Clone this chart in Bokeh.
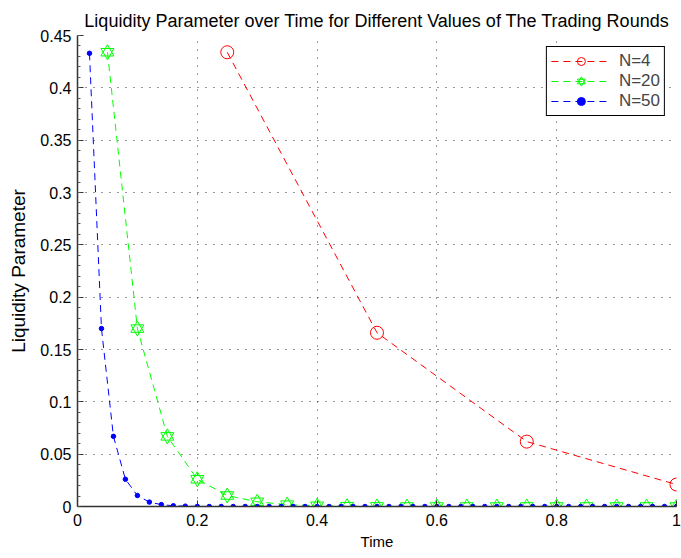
from bokeh.plotting import figure
from bokeh.models import Range1d, FixedTicker, Legend, LegendItem
from bokeh.embed import file_html
from bokeh.resources import INLINE

# ---- data ----
t4 = [0.25, 0.5, 0.75, 1.0]
lam4 = [0.434, 0.166, 0.062, 0.021]

t20 = [0.05, 0.10, 0.15, 0.20, 0.25, 0.30, 0.35, 0.40, 0.45, 0.50,
       0.55, 0.60, 0.65, 0.70, 0.75, 0.80, 0.85, 0.90, 0.95, 1.00]
lam20 = [0.434, 0.170, 0.067, 0.026, 0.0105, 0.0045, 0.0018, 0.0007, 0.0003, 0.0001,
         0.0, 0.0, 0.0, 0.0, 0.0, 0.0, 0.0, 0.0, 0.0, 0.0]

t50 = [0.02, 0.04, 0.06, 0.08, 0.10, 0.12, 0.14, 0.16, 0.18, 0.20,
       0.22, 0.24, 0.26, 0.28, 0.30, 0.32, 0.34, 0.36, 0.38, 0.40,
       0.42, 0.44, 0.46, 0.48, 0.50, 0.52, 0.54, 0.56, 0.58, 0.60,
       0.62, 0.64, 0.66, 0.68, 0.70, 0.72, 0.74, 0.76, 0.78, 0.80,
       0.82, 0.84, 0.86, 0.88, 0.90, 0.92, 0.94, 0.96, 0.98, 1.00]
lam50 = [0.433, 0.170, 0.067, 0.026, 0.0105, 0.0042, 0.0018, 0.0007, 0.0003, 0.0001] + [0.0] * 40

x_ticks = [0, 0.2, 0.4, 0.6, 0.8, 1.0]
x_tick_labels = ["0", "0.2", "0.4", "0.6", "0.8", "1"]
y_ticks = [0, 0.05, 0.10, 0.15, 0.20, 0.25, 0.30, 0.35, 0.40, 0.45]
y_tick_labels = ["0", "0.05", "0.1", "0.15", "0.2", "0.25", "0.3", "0.35", "0.4", "0.45"]

title_text = "Liquidity Parameter over Time for Different Values of The Trading Rounds"
FONT = "Liberation Sans"

p = figure(width=681, height=558, output_backend="svg", toolbar_location=None,
           x_range=Range1d(0, 1), y_range=Range1d(0, 0.45),
           min_border_left=77, min_border_right=5, min_border_top=35, min_border_bottom=52)
p.outline_line_color = None
p.background_fill_color = "white"
p.border_fill_color = "white"

p.title.text = title_text
p.title.align = "center"
p.title.text_font = FONT
p.title.text_font_size = "18px"
p.title.text_font_style = "normal"
p.title.text_color = "black"
p.title.standoff = 9
p.title.offset = 0

# axes
for ax in (p.xaxis[0], p.yaxis[0]):
    ax.axis_line_color = "#333333"
    ax.axis_line_width = 1.5
    ax.major_tick_in = 6
    ax.major_tick_out = 0
    ax.minor_tick_in = 3
    ax.minor_tick_out = 0
    ax.major_tick_line_color = "#333333"
    ax.minor_tick_line_color = "#555555"
    ax.major_label_text_font = FONT
    ax.major_label_text_font_size = "16px"
    ax.major_label_text_color = "black"
    ax.axis_label_text_font = FONT
    ax.axis_label_text_font_style = "normal"
    ax.axis_label_text_color = "black"

p.xaxis.axis_label_text_font_size = "15px"
p.yaxis.axis_label_text_font_size = "19px"
p.xaxis.ticker = FixedTicker(ticks=x_ticks, minor_ticks=[])
p.yaxis.ticker = FixedTicker(ticks=y_ticks,
                             minor_ticks=[i * 0.01 for i in range(0, 46)])
p.xaxis.major_label_overrides = dict(zip(x_ticks, x_tick_labels))
p.yaxis.major_label_overrides = dict(zip(y_ticks, y_tick_labels))
p.xaxis.major_label_standoff = 7
p.yaxis.major_label_standoff = 6
p.xaxis.axis_label = "Time"
p.yaxis.axis_label = "Liquidity Parameter"
p.xaxis.axis_label_standoff = 4
p.yaxis.axis_label_standoff = 8

# grid
for g in (p.xgrid[0], p.ygrid[0]):
    g.grid_line_color = "black"
    g.grid_line_dash = "1 7"
    g.grid_line_width = 1
    g.grid_line_alpha = 0.8

# series
l4 = p.line(t4, lam4, line_color="#ff0000", line_dash="7 5", line_width=1)
m4 = p.scatter(t4, lam4, marker="circle", size=13, fill_color=None,
               line_color="#ff0000", line_width=1)

l20 = p.line(t20, lam20, line_color="#00ff00", line_dash="7 5", line_width=1)
m20a = p.scatter(t20, lam20, marker="triangle", size=13, fill_color=None,
                 line_color="#00ff00", line_width=1)
m20b = p.scatter(t20, lam20, marker="inverted_triangle", size=13, fill_color=None,
                 line_color="#00ff00", line_width=1)

l50 = p.line(t50, lam50, line_color="#0000ff", line_dash="7 5", line_width=1)
m50 = p.scatter(t50, lam50, marker="circle", size=4.5, fill_color="#0000ff",
                line_color="#0000ff", line_width=1)

legend = Legend(items=[
    LegendItem(label="N=4", renderers=[l4, m4]),
    LegendItem(label="N=20", renderers=[l20, m20a, m20b]),
    LegendItem(label="N=50", renderers=[l50, m50]),
], location="top_right")
legend.margin = 11
legend.padding = 4
legend.spacing = 0
legend.glyph_width = 60
legend.glyph_height = 20
legend.label_standoff = 8
legend.label_text_font = FONT
legend.label_text_font_size = "17px"
legend.border_line_color = "black"
legend.border_line_alpha = 1
legend.border_line_width = 1.2
legend.background_fill_alpha = 1
p.add_layout(legend, "center")

open("out.html", "w").write(file_html(p, INLINE))
